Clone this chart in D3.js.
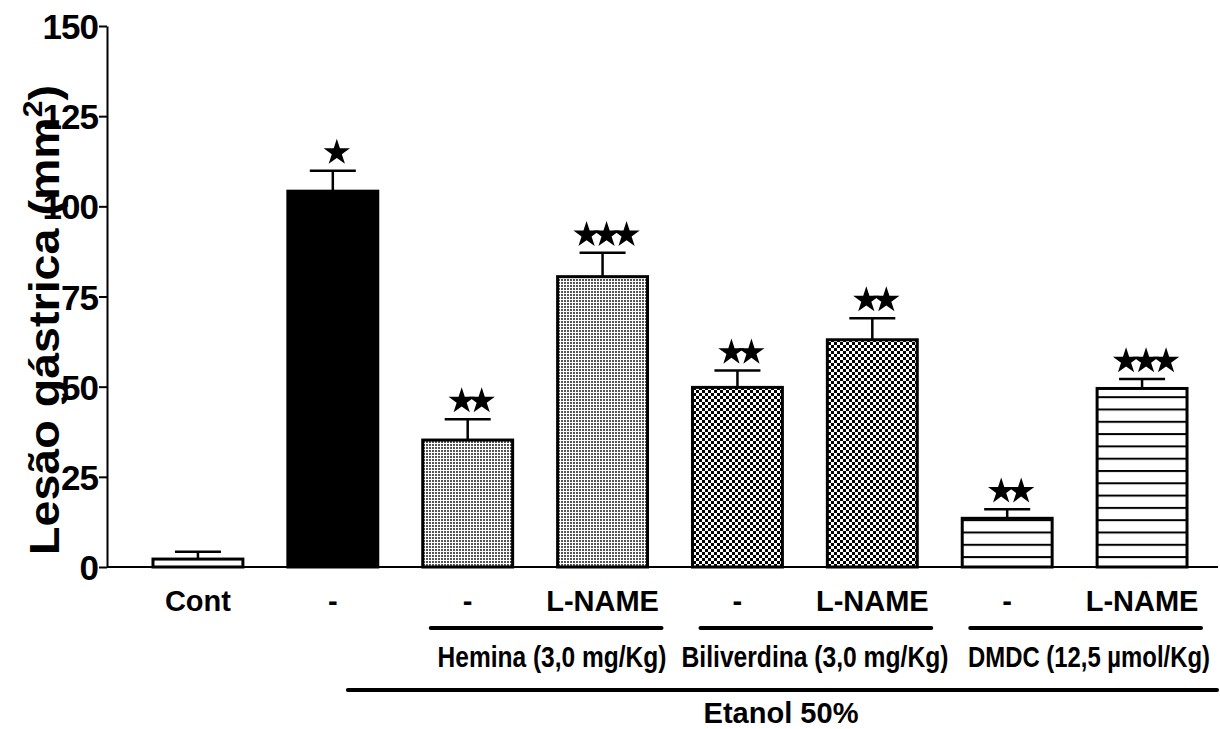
<!DOCTYPE html>
<html>
<head>
<meta charset="utf-8">
<script src="https://cdn.jsdelivr.net/npm/d3@7"></script>
<style>
  body { margin: 0; background: #fff; }
  svg text { font-family: "Liberation Sans", Arial, sans-serif; font-weight: bold; fill: #000; }
</style>
</head>
<body>
<div id="chart"></div>
<script>
// groups on the x axis, left to right
const categories = ['Cont', 'Etanol', 'Hemina', 'Hemina+L-NAME', 'Biliverdina', 'Biliverdina+L-NAME', 'DMDC', 'DMDC+L-NAME'];
const tickLabels = ['Cont', '-', '-', 'L-NAME', '-', 'L-NAME', '-', 'L-NAME'];
// gastric lesion, mm2 (mean and SEM)
const means = [2.2, 104.2, 35.2, 80.5, 49.8, 63.0, 13.5, 49.5];
const sems = [2.0, 5.7, 5.8, 6.6, 4.7, 6.0, 2.5, 2.6];
const starCounts = [0, 1, 2, 3, 2, 2, 2, 3];
const yTicks = [0, 25, 50, 75, 100, 125, 150];
const treatGroups = [
  { label: 'Hemina (3,0 mg/Kg)', from: 'Hemina', to: 'Hemina+L-NAME' },
  { label: 'Biliverdina (3,0 mg/Kg)', from: 'Biliverdina', to: 'Biliverdina+L-NAME' },
  { label: 'DMDC (12,5 \u00b5mol/Kg)', from: 'DMDC', to: 'DMDC+L-NAME' }
];
const outerGroup = { label: 'Etanol 50%', from: 'Etanol', to: 'DMDC+L-NAME' };

const data = categories.map((c, i) => ({ cat: c, label: tickLabels[i], mean: means[i], sem: sems[i], stars: starCounts[i] }));

const width = 1220, height = 729;
const axisX = 107;

const svg = d3.select('#chart').append('svg').attr('width', width).attr('height', height);

const x = d3.scaleBand().domain(categories).range([130.5, 1209.5]).paddingInner(1 / 3).paddingOuter(1 / 6);
const y = d3.scaleLinear().domain([0, 150]).range([567, 26]);

// fill patterns
const defs = svg.append('defs');
const dots = defs.append('pattern').attr('id', 'dots').attr('patternUnits', 'userSpaceOnUse')
  .attr('width', 3).attr('height', 3);
dots.append('rect').attr('width', 3).attr('height', 3).attr('fill', '#fff');
dots.append('rect').attr('width', 2).attr('height', 2).attr('fill', '#555');

const checker = defs.append('pattern').attr('id', 'checker').attr('patternUnits', 'userSpaceOnUse')
  .attr('width', 6).attr('height', 6);
checker.append('rect').attr('width', 6).attr('height', 6).attr('fill', '#fff');
checker.append('rect').attr('width', 3).attr('height', 3).attr('fill', '#000');
checker.append('rect').attr('x', 3).attr('y', 3).attr('width', 3).attr('height', 3).attr('fill', '#000');

const hlines = defs.append('pattern').attr('id', 'hlines').attr('patternUnits', 'userSpaceOnUse')
  .attr('y', y(0) - 35.5).attr('width', 10).attr('height', 12.3);
hlines.append('rect').attr('width', 10).attr('height', 12.3).attr('fill', '#fff');
hlines.append('rect').attr('width', 10).attr('height', 2).attr('fill', '#000');

const fillFor = c => {
  if (c === 'Cont') return '#fff';
  if (c === 'Etanol') return '#000';
  if (c.startsWith('Hemina')) return 'url(#dots)';
  if (c.startsWith('Biliverdina')) return 'url(#checker)';
  return 'url(#hlines)';
};

// bars
svg.append('g').selectAll('rect').data(data).join('rect')
  .attr('x', d => x(d.cat))
  .attr('y', d => y(d.mean))
  .attr('width', x.bandwidth())
  .attr('height', d => y(0) - y(d.mean))
  .attr('fill', d => fillFor(d.cat))
  .attr('stroke', '#000')
  .attr('stroke-width', 3);

// error bars (upper only)
const err = svg.append('g').attr('stroke', '#000').attr('stroke-width', 2.5);
err.selectAll('line.v').data(data).join('line').attr('class', 'v')
  .attr('x1', d => x(d.cat) + x.bandwidth() / 2).attr('x2', d => x(d.cat) + x.bandwidth() / 2)
  .attr('y1', d => y(d.mean)).attr('y2', d => y(d.mean + d.sem));
err.selectAll('line.c').data(data).join('line').attr('class', 'c')
  .attr('x1', d => x(d.cat) + x.bandwidth() / 2 - 23).attr('x2', d => x(d.cat) + x.bandwidth() / 2 + 23)
  .attr('y1', d => y(d.mean + d.sem)).attr('y2', d => y(d.mean + d.sem));

// significance stars
const star = d3.symbol().type(d3.symbolStar).size(215);
const starG = svg.append('g');
data.forEach(d => {
  const cx = x(d.cat) + x.bandwidth() / 2 + 4;
  const cy = y(d.mean + d.sem) - 18;
  for (let k = 0; k < d.stars; k++) {
    const sx = cx + (k - (d.stars - 1) / 2) * 20;
    starG.append('path').attr('d', star).attr('transform', `translate(${sx},${cy})`).attr('fill', '#000');
  }
});

// y axis
const yAxis = svg.append('g').attr('transform', `translate(${axisX},0)`)
  .call(d3.axisLeft(y).tickValues(yTicks).tickSize(8).tickPadding(1).tickSizeOuter(0));
yAxis.select('.domain').attr('stroke-width', 2);
yAxis.selectAll('.tick line').attr('stroke-width', 2);
yAxis.selectAll('.tick text').attr('font-size', 35).attr('letter-spacing', -1).attr('dy', '0.36em')
  .attr('font-family', '"Liberation Sans", Arial, sans-serif').attr('font-weight', 'bold');

// x axis baseline
svg.append('line').attr('x1', axisX).attr('x2', 1218).attr('y1', y(0)).attr('y2', y(0))
  .attr('stroke', '#000').attr('stroke-width', 2);

// x tick labels
svg.append('g').selectAll('text').data(data).join('text')
  .attr('x', d => x(d.cat) + x.bandwidth() / 2)
  .attr('y', 611)
  .attr('text-anchor', 'middle')
  .attr('font-size', 29)
  .text(d => d.label);

// condensed text: squeeze horizontally to a target width
function condensed(cx, cy, size, w, str) {
  const g = svg.append('g');
  const t = g.append('text').attr('text-anchor', 'middle').attr('font-size', size).text(str);
  const s = w / t.node().getComputedTextLength();
  g.attr('transform', `translate(${cx},${cy}) scale(${s},1)`);
  return t;
}

// treatment brackets
treatGroups.forEach(g => {
  const x0 = x(g.from) + 8, x1 = x(g.to) + x.bandwidth() + 14;
  svg.append('line').attr('x1', x0).attr('x2', x1).attr('y1', 628).attr('y2', 628)
    .attr('stroke', '#000').attr('stroke-width', 4).attr('stroke-linecap', 'round');
});
const groupTextCx = [552, 815, 1089];
const groupTextLen = [229, 267, 242];
treatGroups.forEach((g, i) => condensed(groupTextCx[i], 667, 29, groupTextLen[i], g.label));

// ethanol bracket
svg.append('line').attr('x1', x(outerGroup.from) + 60).attr('x2', 1217).attr('y1', 690).attr('y2', 690)
  .attr('stroke', '#000').attr('stroke-width', 4).attr('stroke-linecap', 'round');
condensed(781, 723, 29, 155, outerGroup.label);

// y axis title
const yTitle = svg.append('text')
  .attr('transform', 'translate(59,320) rotate(-90)')
  .attr('text-anchor', 'middle')
  .attr('font-size', 42)
  .attr('textLength', 470).attr('lengthAdjust', 'spacingAndGlyphs');
yTitle.append('tspan').text('Les\u00e3o g\u00e1strica (mm');
yTitle.append('tspan').attr('font-size', 27).attr('dy', -17).text('2');
yTitle.append('tspan').attr('dy', 17).text(')');
</script>
</body>
</html>
